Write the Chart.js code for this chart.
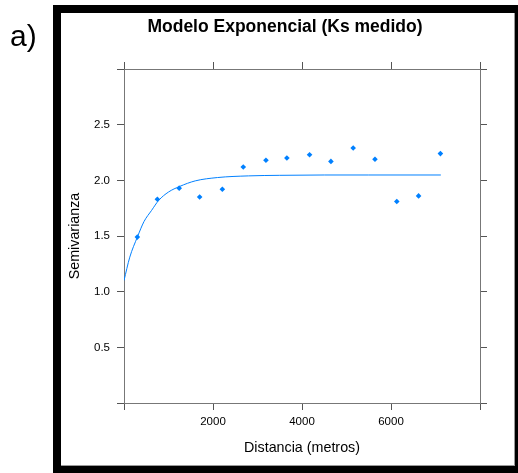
<!DOCTYPE html>
<html>
<head>
<meta charset="utf-8">
<title>Modelo Exponencial (Ks medido)</title>
<script src="https://cdn.jsdelivr.net/npm/chart.js@4"></script>
<style>
  body { margin: 0; background: #fff; width: 518px; height: 473px; overflow: hidden; position: relative; }
  #grafico { position: absolute; left: 0; top: 0; }
  .marco {
    position: absolute; left: 53px; top: 5px; width: 454px; height: 453px;
    border: 8px solid #000; box-shadow: inset -1px -1px 0 #9a9a9a; pointer-events: none;
  }
  .etiqueta {
    position: absolute; left: 10px; top: 21px; font: 30px Arial, "Liberation Sans", sans-serif;
    line-height: 30px; color: #000;
  }
</style>
</head>
<body>
<canvas id="grafico" width="518" height="473"></canvas>
<div class="marco"></div>
<div class="etiqueta">a)</div>
<script>
 /*-------------------
 Datos
 -------------------*/
 // Semivariograma experimental
 const distancias = [300, 750, 1240, 1700, 2210, 2680, 3190, 3660, 4170, 4650, 5150, 5640, 6130, 6620, 7110];
 const semivarianza = [1.49, 1.83, 1.93, 1.85, 1.92, 2.12, 2.18, 2.20, 2.23, 2.17, 2.29, 2.19, 1.81, 1.86, 2.24];

 // Modelo exponencial ajustado
 const modeloDist = [0, 130, 300, 450, 620, 780, 1000, 1250, 1600, 2100, 2800, 3500, 4500, 5500, 7120];
 const modeloVal = [1.10, 1.31, 1.49, 1.63, 1.73, 1.82, 1.895, 1.945, 1.995, 2.025, 2.04, 2.045, 2.048, 2.048, 2.048];

 // Etiquetas de los ejes
 const xEtiquetas = [2000, 4000, 6000];
 const yEtiquetas = [0.5, 1.0, 1.5, 2.0, 2.5];

 /*-------------------
 Grafico
 -------------------*/
 const fuente = 'Arial, "Liberation Sans", sans-serif';
 const colorAzul = '#0080ff';

 const puntos = distancias.map((d, i) => ({ x: d, y: semivarianza[i] }));
 const curva = modeloDist.map((d, i) => ({ x: d, y: modeloVal[i] }));

 // Marcas de los ejes, sin lineas de rejilla
 const marcas = {
   drawOnChartArea: false,
   drawTicks: true,
   tickLength: 7,
   tickColor: '#555'
 };
 const borde = { color: '#777', width: 1 };

 const grafico = new Chart(document.getElementById('grafico'), {
   type: 'scatter',
   data: {
     datasets: [{
       data: puntos,
       pointStyle: 'rectRot',
       pointRadius: 2.8,
       pointHoverRadius: 2.8,
       backgroundColor: colorAzul,
       borderWidth: 0
     }, {
       data: curva,
       showLine: true,
       pointRadius: 0,
       borderColor: colorAzul,
       borderWidth: 1,
       cubicInterpolationMode: 'monotone'
     }]
   },
   options: {
     responsive: false,
     animation: false,
     events: [],
     layout: { padding: { left: 60, right: 8, top: 0, bottom: 14 } },
     scales: {
       x: {
         type: 'linear', position: 'bottom', min: 0, max: 8000,
         grid: marcas, border: borde,
         ticks: {
           stepSize: 2000, padding: 5, color: '#000', maxRotation: 0,
           font: { family: fuente, size: 11.5 },
           callback: (v) => xEtiquetas.includes(v) ? String(v) : ''
         },
         title: {
           display: true, text: 'Distancia (metros)', color: '#000',
           font: { family: fuente, size: 14.3 }, padding: { top: 0, bottom: 2.4 }
         },
         afterFit: (s) => { s.height = 56; }
       },
       y: {
         type: 'linear', position: 'left', min: 0, max: 3,
         grid: marcas, border: borde,
         ticks: {
           stepSize: 0.5, padding: 7, color: '#000',
           font: { family: fuente, size: 11.5 },
           callback: (v) => yEtiquetas.includes(v) ? v.toFixed(1) : ''
         },
         title: {
           display: true, text: 'Semivarianza', color: '#000',
           font: { family: fuente, size: 14.3 }, padding: { top: 6.4, bottom: 0 }
         },
         afterFit: (s) => { s.width = 64; }
       },
       xArriba: {
         type: 'linear', position: 'top', min: 0, max: 8000,
         grid: marcas, border: borde,
         ticks: { stepSize: 2000, display: false },
         afterFit: (s) => { s.height = 31.5; }
       },
       yDerecha: {
         type: 'linear', position: 'right', min: 0, max: 3,
         grid: marcas, border: borde,
         ticks: { stepSize: 0.5, display: false },
         afterFit: (s) => { s.width = 30; }
       }
     },
     plugins: {
       legend: { display: false },
       tooltip: { enabled: false },
       title: {
         display: true,
         text: 'Modelo Exponencial (Ks medido)',
         color: '#000',
         font: { family: fuente, size: 17.5, weight: 'bold' },
         padding: { top: 16.5, bottom: 0 }
       }
     }
   }
 });
</script>
</body>
</html>
